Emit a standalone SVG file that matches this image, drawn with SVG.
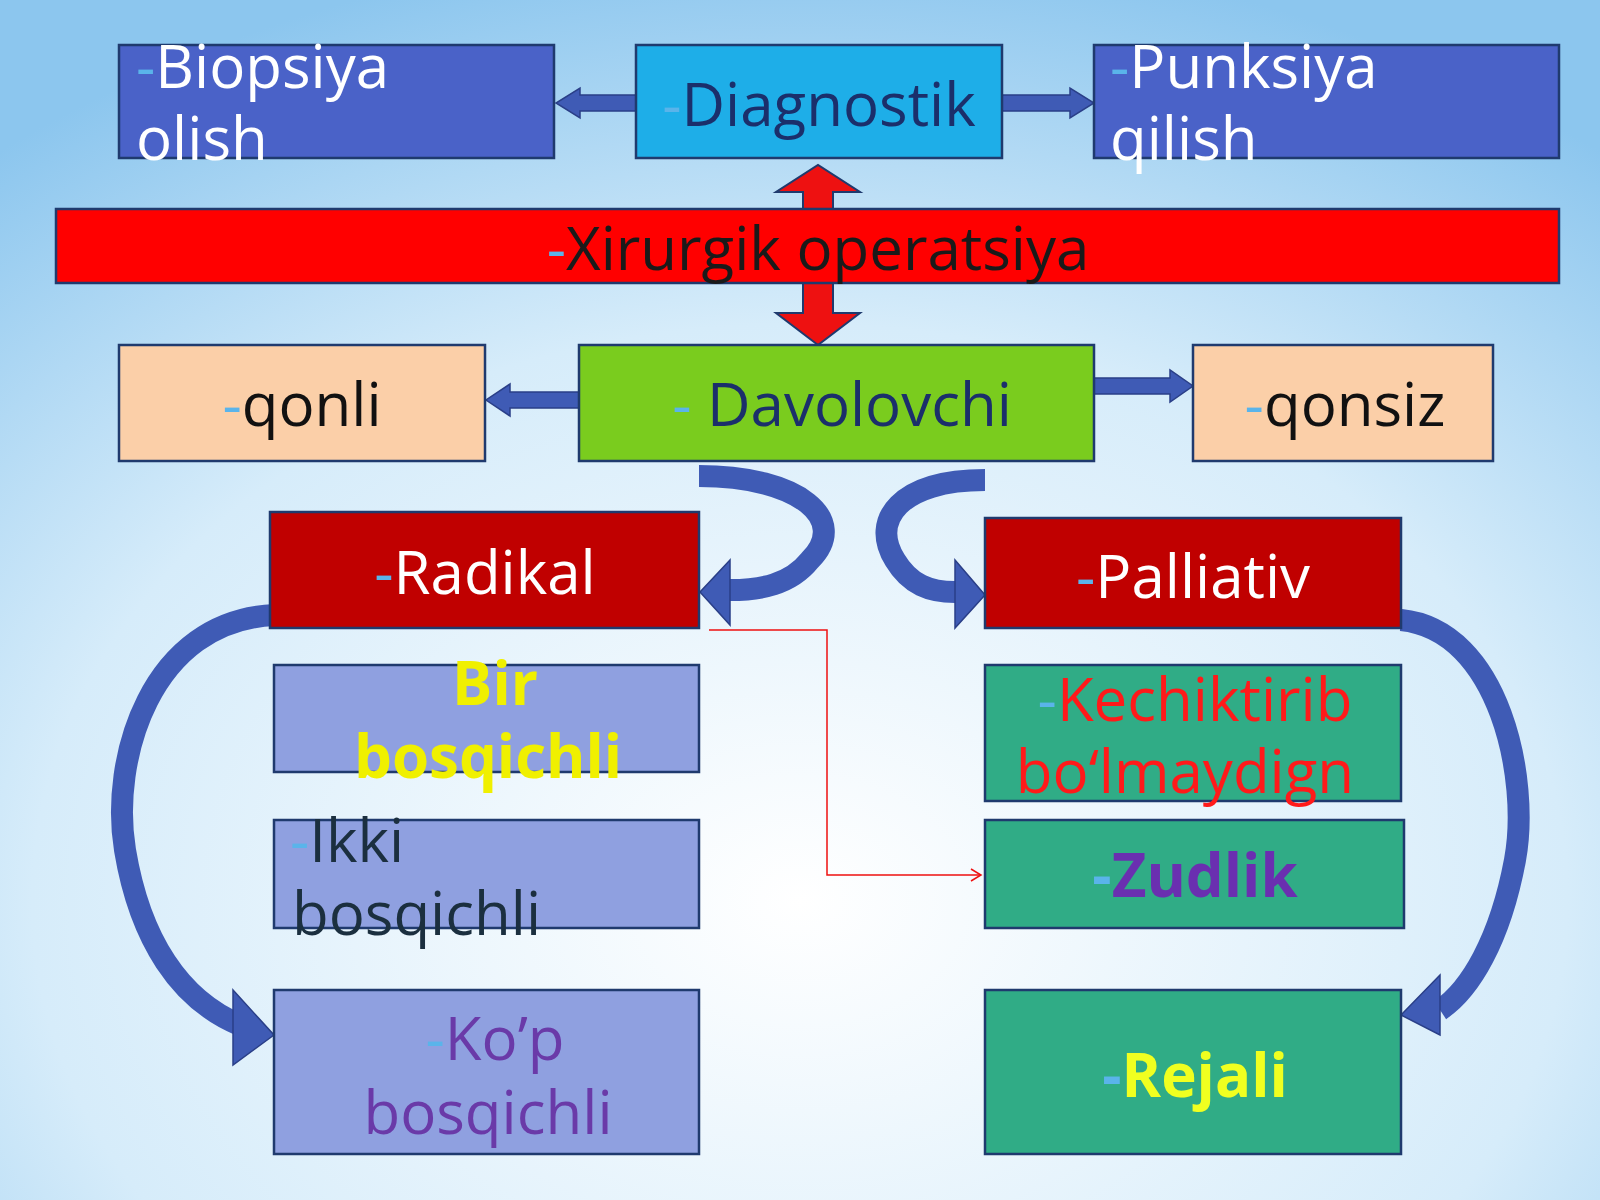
<svg xmlns="http://www.w3.org/2000/svg" width="1600" height="1200" viewBox="0 0 1600 1200">
<defs>
<radialGradient id="bg" cx="0.5" cy="0.75" r="0.8">
<stop offset="0" stop-color="#ffffff"/><stop offset="0.6" stop-color="#d6ecfa"/><stop offset="1" stop-color="#8cc6ee"/>
</radialGradient>
<marker id="open" markerWidth="14" markerHeight="14" refX="12" refY="7" orient="auto" markerUnits="userSpaceOnUse"><path d="M2,1 L12,7 L2,13" fill="none" stroke="#ee1111" stroke-width="1.5"/></marker>
<style>
.b{stroke:#1f3a6e;stroke-width:2.5}
text{font-family:"Open Sans","Noto Sans",sans-serif;font-size:60px}
.d{fill:#5ab4ea}
.bl{fill:#3f5bb5;stroke:#2a3f88;stroke-width:1.5}
.cur{fill:none;stroke:#3f5bb5;stroke-width:22}
</style>
</defs>
<rect width="1600" height="1200" fill="url(#bg)"/>
<g id="connectors">
<path class="bl" d="M636,95 L580,95 L580,88 L556,103 L580,118 L580,111 L636,111 Z" fill="#9ed8f5"/>
<path class="bl" d="M1002,95 L1070,95 L1070,88 L1094,103 L1070,118 L1070,111 L1002,111 Z" fill="#9ed8f5"/>
<path d="M803,213 L803,192 L776,192 L818,165 L860,192 L833,192 L833,213 Z" fill="#ee1111" stroke="#1f3a6e" stroke-width="2"/>
<path d="M803,283 L803,313 L776,313 L818,345 L860,313 L833,313 L833,283 Z" fill="#ee1111" stroke="#1f3a6e" stroke-width="2"/>
<path class="bl" d="M579,392 L510,392 L510,384 L486,400 L510,416 L510,408 L579,408 Z"/>
<path class="bl" d="M1094,378 L1170,378 L1170,370 L1193,386 L1170,402 L1170,394 L1094,394 Z"/>
<path class="cur" d="M699,476 C800,476 850,520 810,560 C790,585 760,590 730,590"/>
<polygon class="bl" points="730,560 700,592 730,625"/>
<path class="cur" d="M985,480 C900,480 870,520 895,560 C910,585 930,592 955,592"/>
<polygon class="bl" points="955,560 985,595 955,628"/>
<path class="cur" d="M275,615 C150,620 110,760 125,850 C140,940 180,1000 240,1025"/>
<polygon class="bl" points="233,990 274,1035 233,1065"/>
<path class="cur" d="M1401,620 C1500,630 1530,780 1515,860 C1500,940 1470,990 1440,1010"/>
<polygon class="bl" points="1440,975 1401,1015 1440,1035"/>
<path d="M709,630 L827,630 L827,875 L981,875" fill="none" stroke="#ee1111" stroke-width="1.5" marker-end="url(#open)"/>
</g>
<g id="biopsiya"><rect class="b" x="119" y="45" width="435" height="113" fill="#4a62c8"/><text x="136" y="88" fill="#fff"><tspan class="d">-</tspan>Biopsiya</text><text x="136" y="160" fill="#fff">olish</text></g>
<g id="diagnostik"><rect class="b" x="636" y="45" width="366" height="113" fill="#1eaee8"/><text x="819" y="126" fill="#1b2f6b" text-anchor="middle"><tspan class="d">-</tspan>Diagnostik</text></g>
<g id="punksiya"><rect class="b" x="1094" y="45" width="465" height="113" fill="#4a62c8"/><text x="1110" y="88" fill="#fff"><tspan class="d">-</tspan>Punksiya</text><text x="1110" y="160" fill="#fff">qilish</text></g>
<g id="xirurgik"><rect class="b" x="56" y="209" width="1503" height="74" fill="#ff0000"/><text x="818" y="270" fill="#1a1a1a" text-anchor="middle"><tspan class="d">-</tspan>Xirurgik operatsiya</text></g>
<g id="qonli"><rect class="b" x="119" y="345" width="366" height="116" fill="#fbcfa8"/><text x="302" y="426" fill="#111" text-anchor="middle"><tspan class="d">-</tspan>qonli</text></g>
<g id="davolovchi"><rect class="b" x="579" y="345" width="515" height="116" fill="#7acc1e"/><text x="842" y="426" fill="#1b2f6b" text-anchor="middle"><tspan class="d">-  </tspan>Davolovchi</text></g>
<g id="qonsiz"><rect class="b" x="1193" y="345" width="300" height="116" fill="#fbcfa8"/><text x="1345" y="426" fill="#111" text-anchor="middle"><tspan class="d">-</tspan>qonsiz</text></g>
<g id="radikal"><rect class="b" x="270" y="512" width="429" height="116" fill="#c00000"/><text x="485" y="594" fill="#fff" text-anchor="middle"><tspan class="d">-</tspan>Radikal</text></g>
<g id="palliativ"><rect class="b" x="985" y="518" width="416" height="110" fill="#c00000"/><text x="1193" y="598" fill="#fff" text-anchor="middle"><tspan class="d">-</tspan>Palliativ</text></g>
<g id="bir"><rect class="b" x="274" y="665" width="425" height="107" fill="#8fa0e0"/><text x="495" y="705" fill="#f0f000" font-weight="bold" text-anchor="middle">Bir</text><text x="488" y="778" fill="#f0f000" font-weight="bold" text-anchor="middle">bosqichli</text></g>
<g id="ikki"><rect class="b" x="274" y="820" width="425" height="108" fill="#8fa0e0"/><text x="290" y="862" fill="#1b2f3f"><tspan class="d">-</tspan>Ikki</text><text x="292" y="935" fill="#1b2f3f">bosqichli</text></g>
<g id="kop"><rect class="b" x="274" y="990" width="425" height="164" fill="#8fa0e0"/><text x="495" y="1060" fill="#6a3aa8" text-anchor="middle"><tspan class="d">-</tspan>Ko’p</text><text x="488" y="1134" fill="#6a3aa8" text-anchor="middle">bosqichli</text></g>
<g id="kechiktirib"><rect class="b" x="985" y="665" width="416" height="136" fill="#30ac86"/><text x="1195" y="721" fill="#ff1a1a" text-anchor="middle"><tspan class="d">-</tspan>Kechiktirib</text><text x="1185" y="793" fill="#ff1a1a" text-anchor="middle">bo‘lmaydign</text></g>
<g id="zudlik"><rect class="b" x="985" y="820" width="419" height="108" fill="#30ac86"/><text x="1195" y="897" fill="#6a2fb0" font-weight="bold" text-anchor="middle"><tspan class="d">-</tspan>Zudlik</text></g>
<g id="rejali"><rect class="b" x="985" y="990" width="416" height="164" fill="#30ac86"/><text x="1195" y="1097" fill="#f0ff20" font-weight="bold" text-anchor="middle"><tspan class="d">-</tspan>Rejali</text></g>
</svg>
